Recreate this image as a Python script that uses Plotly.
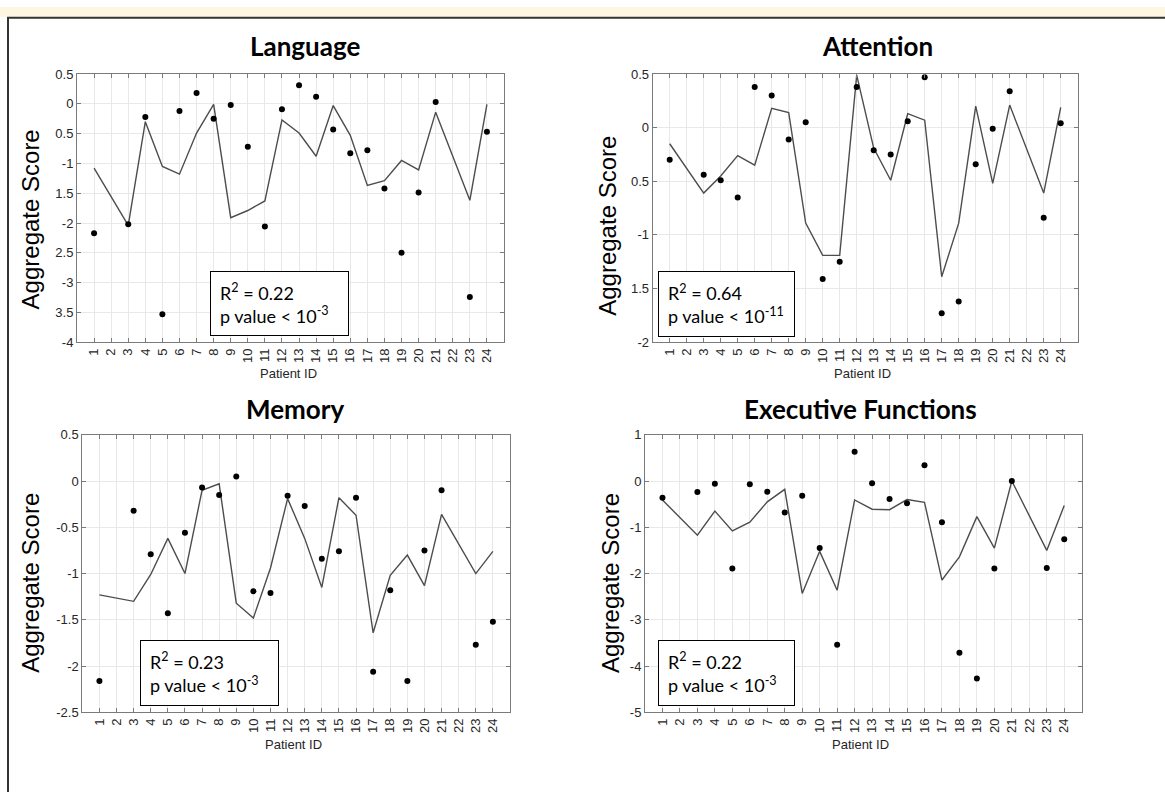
import plotly.graph_objects as go

# ---- data -------------------------------------------------------------
patient_ids = [1, 3, 4, 5, 6, 7, 8, 9, 10, 11, 12, 13, 14, 15, 16, 17, 18, 19, 20, 21, 23, 24]
all_ids = list(range(1, 25))

language_obs = [-2.17, -2.02, -0.22, -3.53, -0.12, 0.18, -0.25, -0.02, -0.72, -2.06, -0.09,
                0.31, 0.12, -0.43, -0.83, -0.78, -1.42, -2.50, -1.49, 0.03, -3.24, -0.47]
language_fit = [-1.08, -2.04, -0.30, -1.05, -1.18, -0.49, -0.01, -1.91, -1.79, -1.63, -0.27,
                -0.49, -0.88, -0.03, -0.53, -1.37, -1.29, -0.95, -1.11, -0.14, -1.62, -0.01]

attention_obs = [-0.30, -0.44, -0.49, -0.65, 0.38, 0.30, -0.11, 0.05, -1.41, -1.25, 0.38,
                 -0.21, -0.25, 0.06, 0.47, -1.73, -1.62, -0.34, -0.01, 0.34, -0.84, 0.04]
attention_fit = [-0.15, -0.61, -0.45, -0.26, -0.35, 0.18, 0.14, -0.89, -1.19, -1.19, 0.49,
                 -0.19, -0.49, 0.13, 0.07, -1.39, -0.89, 0.20, -0.52, 0.21, -0.61, 0.19]

memory_obs = [-2.16, -0.32, -0.79, -1.43, -0.56, -0.07, -0.15, 0.05, -1.19, -1.21, -0.16,
              -0.27, -0.84, -0.76, -0.18, -2.06, -1.18, -2.16, -0.75, -0.10, -1.77, -1.52]
memory_fit = [-1.23, -1.30, -1.01, -0.62, -1.00, -0.10, -0.03, -1.32, -1.48, -0.94, -0.19,
              -0.62, -1.15, -0.18, -0.37, -1.64, -1.02, -0.80, -1.13, -0.36, -1.00, -0.76]

executive_obs = [-0.36, -0.24, -0.06, -1.89, -0.07, -0.23, -0.68, -0.32, -1.45, -3.54, 0.63,
                 -0.05, -0.39, -0.48, 0.34, -0.89, -3.71, -4.27, -1.89, 0.00, -1.88, -1.26]
executive_fit = [-0.41, -1.17, -0.65, -1.08, -0.89, -0.45, -0.18, -2.43, -1.52, -2.36, -0.41,
                 -0.61, -0.62, -0.40, -0.46, -2.14, -1.64, -0.77, -1.45, 0.00, -1.50, -0.53]

titles = ["Language", "Attention", "Memory", "Executive Functions"]
stats = [("0.22", "-3"), ("0.64", "-11"), ("0.23", "-3"), ("0.22", "-3")]

language_ticks = [0.5, 0, -0.5, -1, -1.5, -2, -2.5, -3, -3.5, -4]
language_ticktext = ["0.5", "0", "0.5", "-1", "1.5", "-2", "2.5", "-3", "3.5", "-4"]
attention_ticks = [0.5, 0, -0.5, -1, -1.5, -2]
attention_ticktext = ["0.5", "0", "0.5", "-1", "1.5", "-2"]
memory_ticks = [0.5, 0, -0.5, -1, -1.5, -2, -2.5]
memory_ticktext = ["0.5", "0", "-0.5", "-1", "-1.5", "-2", "-2.5"]
executive_ticks = [1, 0, -1, -2, -3, -4, -5]
executive_ticktext = ["1", "0", "-1", "-2", "-3", "-4", "-5"]

# ---- layout geometry (pixels) ----------------------------------------
W, H = 1165, 792

panels = [
    dict(obs=language_obs, fit=language_fit, yr=[-4, 0.5], tv=language_ticks, tt=language_ticktext,
         box=(77, 504, 68.3, 341.7), title_xy=(304.5, 40), ytitle_xy=(30, 216.5),
         xtitle_xy=(288, 374), stat_box=(210, 349, 270, 335)),
    dict(obs=attention_obs, fit=attention_fit, yr=[-2, 0.5], tv=attention_ticks, tt=attention_ticktext,
         box=(652.7, 1077.7, 68.3, 341.7), title_xy=(877.5, 40), ytitle_xy=(608, 223),
         xtitle_xy=(862, 374), stat_box=(657.7, 795, 270, 336)),
    dict(obs=memory_obs, fit=memory_fit, yr=[-2.5, 0.5], tv=memory_ticks, tt=memory_ticktext,
         box=(82.3, 510, 436, 719), title_xy=(295, 410), ytitle_xy=(30.5, 587.5),
         xtitle_xy=(293, 752), stat_box=(140, 279.3, 646, 711.7)),
    dict(obs=executive_obs, fit=executive_fit, yr=[-5, 1], tv=executive_ticks, tt=executive_ticktext,
         box=(645, 1081.7, 436, 719), title_xy=(860, 410), ytitle_xy=(610.7, 587.5),
         xtitle_xy=(860, 752), stat_box=(657.7, 795, 646, 711.7)),
]

AXIS_GREY = "#7a7a7a"
GRID_GREY = "#e8e8e8"
TICK_FONT = dict(family="Liberation Sans, Arial, sans-serif", size=13, color="#262626")


def px_x(v):
    return v / W


def px_y(v):
    return 1 - v / H


fig = go.Figure()
layout = dict(
    width=W, height=H,
    margin=dict(l=0, r=0, t=0, b=0),
    paper_bgcolor="white", plot_bgcolor="white",
    showlegend=False,
)
annotations = []
shapes = []

for i, p in enumerate(panels, start=1):
    sfx = "" if i == 1 else str(i)
    xa, ya = "x" + sfx, "y" + sfx
    x0, x1, y0, y1 = p["box"]

    # fitted model line
    fig.add_trace(go.Scatter(
        x=patient_ids, y=p["fit"], mode="lines", xaxis=xa, yaxis=ya,
        line=dict(color="#4d4d4d", width=1.4), hoverinfo="skip"))
    # observed aggregate scores
    fig.add_trace(go.Scatter(
        x=patient_ids, y=p["obs"], mode="markers", xaxis=xa, yaxis=ya,
        marker=dict(color="black", size=6)))

    layout["xaxis" + sfx] = dict(
        domain=[px_x(x0), px_x(x1)], anchor=ya, range=[0, 25],
        tickmode="array", tickvals=all_ids, ticktext=[str(v) for v in all_ids],
        tickangle=-90, tickfont=TICK_FONT,
        ticks="inside", ticklen=4, tickcolor=AXIS_GREY, tickwidth=1,
        showline=True, linecolor=AXIS_GREY, linewidth=1, mirror="allticks",
        showgrid=True, gridcolor=GRID_GREY, gridwidth=1, zeroline=False,
    )
    layout["yaxis" + sfx] = dict(
        domain=[px_y(y1), px_y(y0)], anchor=xa, range=p["yr"],
        tickmode="array", tickvals=p["tv"], ticktext=p["tt"], tickfont=TICK_FONT,
        ticks="inside", ticklen=4, tickcolor=AXIS_GREY, tickwidth=1,
        showline=True, linecolor=AXIS_GREY, linewidth=1, mirror="allticks",
        showgrid=True, gridcolor=GRID_GREY, gridwidth=1, zeroline=False,
    )

    # panel title
    tx, ty = p["title_xy"]
    annotations.append(dict(
        text="<b>%s</b>" % titles[i - 1], x=px_x(tx), y=px_y(ty), xref="paper", yref="paper",
        xanchor="center", yanchor="middle", showarrow=False,
        font=dict(family="Lato, Open Sans, sans-serif", size=26, color="black")))
    # y-axis title
    yx, yy = p["ytitle_xy"]
    annotations.append(dict(
        text="Aggregate Score", x=px_x(yx), y=px_y(yy), xref="paper", yref="paper",
        xanchor="center", yanchor="middle", textangle=-90, showarrow=False,
        font=dict(family="Liberation Sans, Arial, sans-serif", size=24, color="black")))
    # x-axis title
    xx, xy = p["xtitle_xy"]
    annotations.append(dict(
        text="Patient ID", x=px_x(xx), y=px_y(xy), xref="paper", yref="paper",
        xanchor="center", yanchor="middle", showarrow=False,
        font=dict(family="Liberation Sans, Arial, sans-serif", size=13, color="#262626")))
    # regression statistics box
    bx0, bx1, by0, by1 = p["stat_box"]
    r2, pexp = stats[i - 1]
    pad = 9
    annotations.append(dict(
        text="R<sup>2</sup> = %s<br>p value &lt; 10<sup>%s</sup>" % (r2, pexp),
        x=px_x((bx0 + bx1) / 2), y=px_y((by0 + by1) / 2), xref="paper", yref="paper",
        xanchor="center", yanchor="middle", showarrow=False, align="left",
        width=bx1 - bx0 - 2 * pad - 2, height=by1 - by0 - 2 * pad - 2,
        bordercolor="black", borderwidth=1, borderpad=pad, bgcolor="white",
        font=dict(family="Lato, Open Sans, sans-serif", size=18, color="black")))

# cream strip along the top edge and the outer frame
shapes.append(dict(type="rect", xref="paper", yref="paper", x0=0, x1=1, y0=px_y(10), y1=1,
                   fillcolor="#fdf6e0", line=dict(width=0), layer="below"))
shapes.append(dict(type="rect", xref="paper", yref="paper", x0=px_x(8), x1=px_x(1175),
                   y0=px_y(802), y1=px_y(11), fillcolor="rgba(0,0,0,0)",
                   line=dict(color="#333333", width=2), layer="above"))

layout["annotations"] = annotations
layout["shapes"] = shapes
fig.update_layout(**layout)

fig.write_html("out.html")
